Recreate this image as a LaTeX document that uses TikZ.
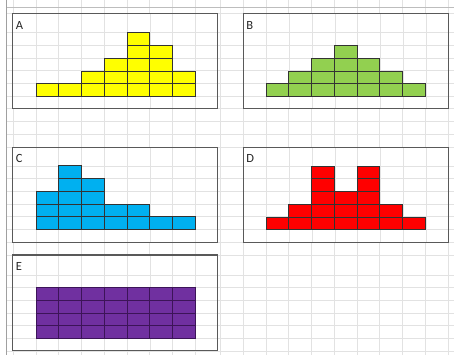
\documentclass[tikz,border=0pt]{standalone}
\usepackage{fontspec}
\setmainfont{Carlito}
\definecolor{gridc}{HTML}{E2E2E2}
\definecolor{edgec}{HTML}{A0A0A0}
\definecolor{boxc}{HTML}{595959}
\definecolor{cellc}{HTML}{333333}
\definecolor{cyellow}{HTML}{FFFF00}
\definecolor{cgreen}{HTML}{92D050}
\definecolor{cblue}{HTML}{00B0F0}
\definecolor{cred}{HTML}{FF0000}
\definecolor{cpurple}{HTML}{7030A0}
\definecolor{cpurpleedge}{HTML}{3C1458}
\newcommand{\drawbars}[5]{%
  \foreach \c/\h in {#4}{%
    \foreach \r in {1,...,\h}{%
      \draw[cell,draw=#5,fill=#3] ({#1+\c*22.76},{#2-(\r-1)*12.7}) rectangle ++(22.76,-12.7);
    }%
  }%
}
\begin{document}
\begin{tikzpicture}[x=1pt,y=-1pt,
  gridline/.style={draw=gridc,line width=0.8pt},
  panel/.style={draw=boxc,line width=1.2pt,fill=white},
  cell/.style={line width=0.7pt},
  lbl/.style={anchor=base west,inner sep=0pt,font=\fontsize{12.5}{13}\selectfont,text=black!85}]
\useasboundingbox (0,0) rectangle (454,355);
\fill[white] (0,0) rectangle (454,355);
% spreadsheet grid
\foreach \x in {13.2,36,58.76,81.5,104.3,127.1,149.8,172.6,195.3,220,243.3,266,288.8,311.5,334.3,357.1,379.8,402.6,425.3,448.3}
  \draw[gridline] (\x,0) -- (\x,355);
\foreach \y in {13.3,32.7,45.4,58.1,70.8,83.6,96.3,108.9,121.6,134.3,147.3,166,178.7,191.3,204,216.7,229.3,242.3,255,275,287.6,300.3,313,325.7,338.3,351}
  \draw[gridline] (6.7,\y) -- (454,\y);
\draw[draw=edgec!70,line width=1pt] (6.7,7.3) -- (454,7.3);
\draw[draw=edgec,line width=1.2pt] (6.7,0) -- (6.7,355);
% panels
\draw[panel] (12.7,13.3) rectangle (217.8,108.3);
\draw[panel] (243.3,13.3) rectangle (448.3,108.3);
\draw[panel] (12.7,147.3) rectangle (217.8,242.3);
\draw[panel] (243.3,147.3) rectangle (448.3,242.3);
\draw[panel] (12.7,255) rectangle (217.8,350.7);
% light grid inside panels
\foreach \bx/\top/\bot in {12.7/13.3/108.3,243.3/13.3/108.3,12.7/147.3/242.3,243.3/147.3/242.3,12.7/255/350.7}{
  \foreach \k in {1,...,8}
    \draw[gridline] ({\bx+0.5+\k*22.8},\top) -- ({\bx+0.5+\k*22.8},\bot);
}
\foreach \y in {32.7,45.4,58.1,70.8,83.6,96.3}{
  \draw[gridline] (12.7,\y) -- (217.8,\y);
  \draw[gridline] (243.3,\y) -- (448.3,\y);
}
\foreach \y in {166,178.7,191.3,204,216.7,229.3}{
  \draw[gridline] (12.7,\y) -- (217.8,\y);
  \draw[gridline] (243.3,\y) -- (448.3,\y);
}
\foreach \y in {275,287.6,300.3,313,325.7,338.3}
  \draw[gridline] (12.7,\y) -- (217.8,\y);
\draw[panel,fill=none] (12.7,13.3) rectangle (217.8,108.3);
\draw[panel,fill=none] (243.3,13.3) rectangle (448.3,108.3);
\draw[panel,fill=none] (12.7,147.3) rectangle (217.8,242.3);
\draw[panel,fill=none] (243.3,147.3) rectangle (448.3,242.3);
\draw[panel,fill=none] (12.7,255) rectangle (217.8,350.7);
% bars
\drawbars{36}{96.3}{cyellow}{0/1,1/1,2/2,3/3,4/5,5/4,6/2}{cellc}
\drawbars{266}{96.3}{cgreen}{0/1,1/2,2/3,3/4,4/3,5/2,6/1}{cellc}
\drawbars{36}{229.3}{cblue}{0/3,1/5,2/4,3/2,4/2,5/1,6/1}{cellc}
\drawbars{266}{229.6}{cred}{0/1,1/2,2/5,3/3,4/5,5/2,6/1}{cellc}
\drawbars{36}{338.3}{cpurple}{0/4,1/4,2/4,3/4,4/4,5/4,6/4}{cpurpleedge}
% labels
\node[lbl] (la) at (15.6,29.4) {A};
\node[lbl] (lb) at (246.2,29.4) {B};
\node[lbl] (lc) at (15.6,162.6) {C};
\node[lbl] (ld) at (246.2,162.6) {D};
\node[lbl] (le) at (15.6,270.3) {E};
\end{tikzpicture}
\end{document}
